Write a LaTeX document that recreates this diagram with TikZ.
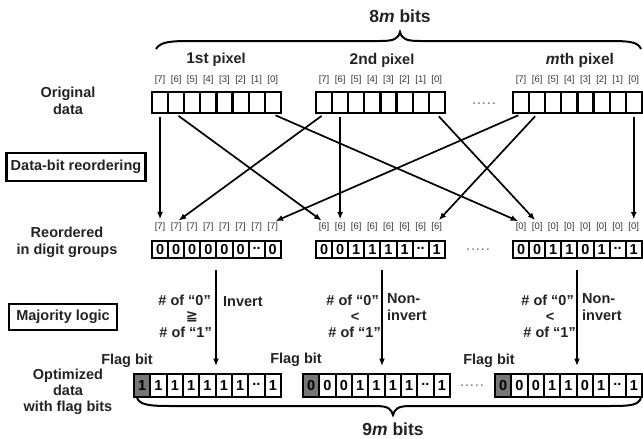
\documentclass[tikz,border=0pt]{standalone}
\usepackage{fontspec}
\setmainfont{Liberation Sans}
\newfontfamily\djv{DejaVu Sans}
\usetikzlibrary{arrows.meta}
\definecolor{txt}{RGB}{35,35,35}
\definecolor{idxc}{RGB}{55,55,55}
\definecolor{flagc}{RGB}{118,118,118}
\newcommand\twodots{\raisebox{3pt}{..}}
\begin{document}
\begin{tikzpicture}[x=1pt,y=-1pt,
 lbl/.style={font=\bfseries\fontsize{14.5}{16.5}\selectfont, text=txt, inner sep=0, align=center},
 idx/.style={font=\fontsize{9.5}{10}\selectfont, text=idxc, inner sep=0},
 ocell/.style={draw, line width=2.2pt, minimum width=16.1pt, minimum height=21pt, inner sep=0},
 rcell/.style={draw, line width=2pt, minimum width=16.1pt, minimum height=17pt, inner sep=0, font=\bfseries\fontsize{14.5}{14}\selectfont},
 fcell/.style={draw, line width=2pt, minimum width=16.33pt, minimum height=23pt, inner sep=0, font=\bfseries\fontsize{14.5}{14}\selectfont},
 flagcell/.style={fcell, fill=flagc},
 lbox/.style={draw, line width=2.4pt, inner sep=0, font=\bfseries\fontsize{14.5}{14}\selectfont, text=txt},
 arr/.style={line width=1.7pt, -{Latex[length=7.5pt,width=6pt]}},
 brc/.style={line width=2pt},
 dotsn/.style={font=\bfseries\fontsize{11}{11}\selectfont, text=gray, inner sep=0},
]
\useasboundingbox (0,0) rectangle (643,439);

% titles
\node[lbl, font=\bfseries\fontsize{17.5}{17}\selectfont] (t8) at (400,16) {8\textit{m} bits};
\draw[brc] (156,49) .. controls (160,42) and (170,41) .. (190,41) -- (380,41)
  .. controls (394,41) and (398,39) .. (400,32) .. controls (402,39) and (406,41) .. (420,41)
  -- (610,41) .. controls (630,41) and (638,42) .. (641,49);
\node[lbl] (p1) at (216,60) {{\fontsize{15.5}{16}\selectfont 1st} pixel};
\node[lbl] (p2) at (382,60) {{\fontsize{15.5}{16}\selectfont 2nd} pixel};
\node[lbl, font=\bfseries\fontsize{15.5}{16}\selectfont] (pm) at (580,60) {\textit{m}th pixel};

% left labels
\node[lbl] (orig) at (68,101) {Original\\data};
\node[lbox, minimum width=139pt, minimum height=28pt] (dbr) at (76,167) {Data-bit reordering};
\node[lbl, font=\bfseries\fontsize{14.5}{17}\selectfont] (reord) at (67,242.5) {Reordered\\in digit groups};
\node[lbox, minimum width=108pt, minimum height=26pt] (ml) at (63,317) {Majority logic};
\node[lbl, font=\bfseries\fontsize{14.5}{16}\selectfont] (opt) at (68,392) {Optimized\\data\\with flag bits};

% original data
\foreach \b/\x in {1/152,2/316,3/513} {
  \foreach \i in {0,...,7} {
    \pgfmathtruncatemacro\k{7-\i}
    \node[ocell] (o\b-\i) at ({\x+16.1*\i+8.05},102.5) {};
    \node[idx] (ol\b-\i) at ({\x+16.1*\i+8.05},80) {[\k]};
  }
}
\node[dotsn] (d1) at (484,104) {.\,.\,.\,.\,.};

% reordered
\foreach \d [count=\n from 0] in {0,0,0,0,0,0,\twodots,0} {
  \node[rcell] (ra-\n) at ({152+16.1*\n+8.05},249.5) {\d};
  \node[idx] (rla-\n) at ({152+16.1*\n+8.05},227) {[7]};
}
\foreach \d [count=\n from 0] in {0,0,1,1,1,1,\twodots,1} {
  \node[rcell] (rb-\n) at ({316+16.1*\n+8.05},249.5) {\d};
  \node[idx] (rlb-\n) at ({316+16.1*\n+8.05},227) {[6]};
}
\foreach \d [count=\n from 0] in {0,0,1,1,0,1,\twodots,1} {
  \node[rcell] (rc-\n) at ({513+16.1*\n+8.05},249.5) {\d};
  \node[idx] (rlc-\n) at ({513+16.1*\n+8.05},227) {[0]};
}
\node[dotsn] (d2) at (478,250) {.\,.\,.\,.\,.};

% reordering arrows
\begin{scope}[shorten <=3pt, shorten >=3pt]
\draw[arr] (o1-0.south) -- (rla-0.north);
\draw[arr] (o1-1.south) -- (rlb-0.north);
\draw[arr] (o1-7.south) -- (rlc-0.north);
\draw[arr] (o2-0.south) -- (rla-1.north);
\draw[arr] (o2-1.south) -- (rlb-1.north);
\draw[arr] (o2-7.south) -- (rlc-1.north);
\draw[arr] (o3-0.south) -- (rla-7.north);
\draw[arr] (o3-1.south) -- (rlb-7.north);
\draw[arr] (o3-7.south) -- (rlc-7.north);
\end{scope}

% majority logic
\coordinate (ma) at (216,270); \coordinate (mae) at (216,366);
\coordinate (mb) at (382,270); \coordinate (mbe) at (382,366);
\coordinate (mc) at (577,270); \coordinate (mce) at (577,366);
\draw[arr] (ma) -- (mae);
\draw[arr] (mb) -- (mbe);
\draw[arr] (mc) -- (mce);

\node[lbl, anchor=east] (qa0) at (211,300) {\# of “0”};
\node[lbl] (qag) at (192,317) {{\djv\bfseries ≧}};
\node[lbl, anchor=east] (qa1) at (212,332) {\# of “1”};
\node[lbl, anchor=west] (inv) at (223,302) {Invert};

\node[lbl, anchor=east] (qb0) at (379,300) {\# of “0”};
\node[lbl] (qbl) at (355,317) {<};
\node[lbl, anchor=east] (qb1) at (381,332) {\# of “1”};
\node[lbl, anchor=west, align=left, font=\bfseries\fontsize{14.5}{17}\selectfont] (nib) at (387,307.5) {Non-\\invert};

\node[lbl, anchor=east] (qc0) at (574,300) {\# of “0”};
\node[lbl] (qcl) at (550,317) {<};
\node[lbl, anchor=east] (qc1) at (576,332) {\# of “1”};
\node[lbl, anchor=west, align=left, font=\bfseries\fontsize{14.5}{17}\selectfont] (nic) at (582,307.5) {Non-\\invert};

% optimized data
\node[flagcell] (fa-0) at ({134+8.17},385.5) {1};
\foreach \d [count=\n from 1] in {1,1,1,1,1,1,\twodots,1}
  \node[fcell] (fa-\n) at ({134+16.33*\n+8.17},385.5) {\d};
\node[flagcell] (fb-0) at ({303+8.17},385.5) {0};
\foreach \d [count=\n from 1] in {0,0,1,1,1,1,\twodots,1}
  \node[fcell] (fb-\n) at ({303+16.33*\n+8.17},385.5) {\d};
\node[flagcell] (fc-0) at ({495+8.17},385.5) {0};
\foreach \d [count=\n from 1] in {0,0,1,1,0,1,\twodots,1}
  \node[fcell] (fc-\n) at ({495+16.33*\n+8.17},385.5) {\d};
\node[dotsn] (d3) at (472,386) {.\,.\,.\,.\,.};

\node[lbl, anchor=east] (fla) at (153,361) {Flag bit};
\node[lbl, anchor=east] (flb) at (322,360) {Flag bit};
\node[lbl, anchor=east] (flc) at (515,361) {Flag bit};

\draw[brc] (137,398) .. controls (140,405) and (150,406) .. (170,406) -- (375,406)
  .. controls (389,406) and (391,409) .. (393,415) .. controls (395,409) and (397,406) .. (411,406)
  -- (610,406) .. controls (632,406) and (638,405) .. (641,398);
\node[lbl, font=\bfseries\fontsize{17.5}{17}\selectfont] (t9) at (393,429) {9\textit{m} bits};
\end{tikzpicture}
\end{document}
